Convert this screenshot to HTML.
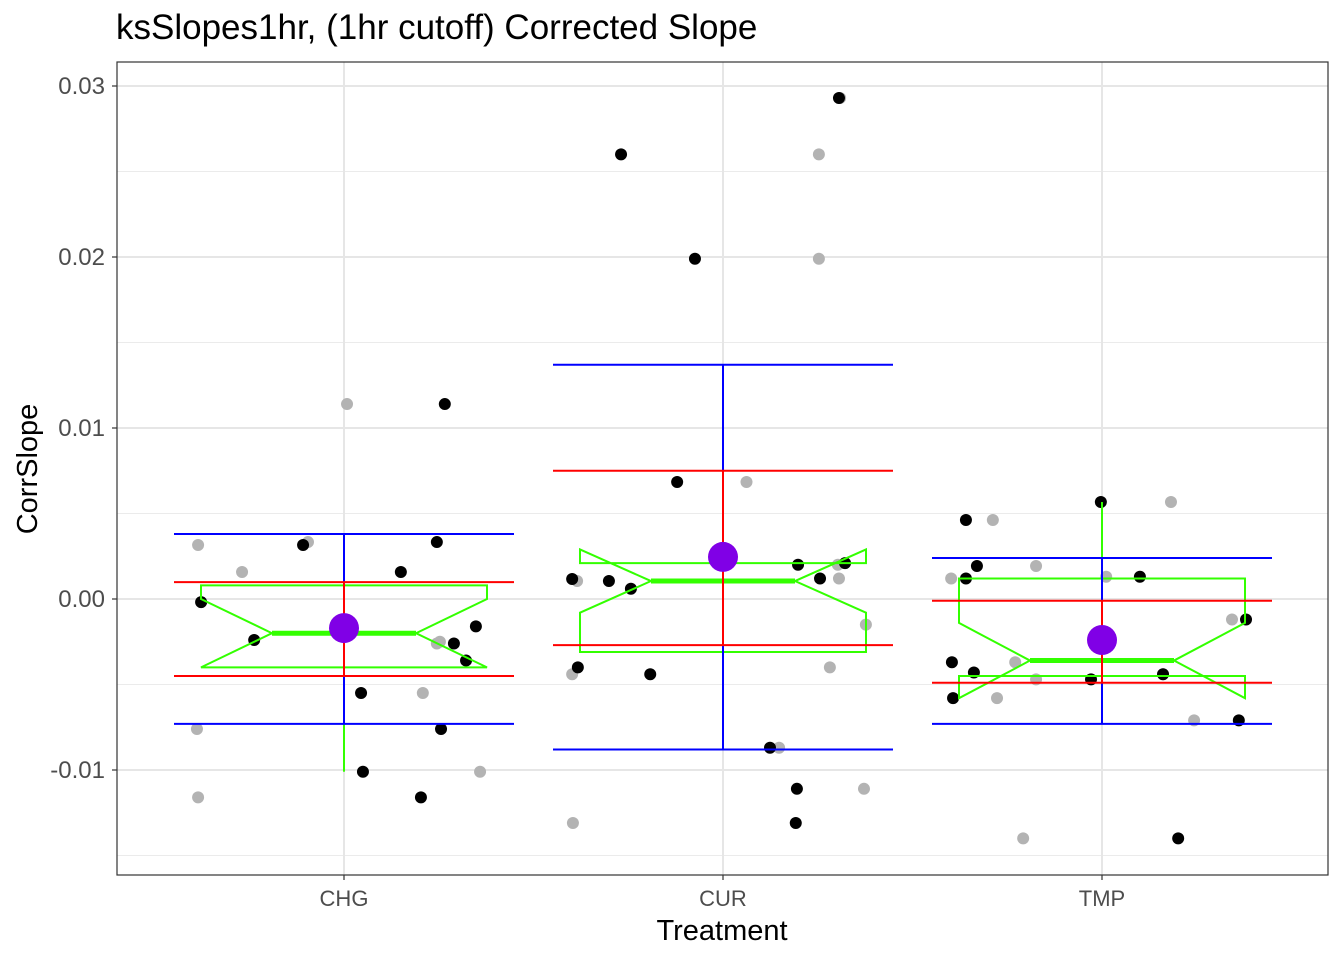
<!DOCTYPE html>
<html><head><meta charset="utf-8"><style>
body{margin:0;background:#fff}
svg text{font-family:"Liberation Sans",Arial,sans-serif}
</style></head><body>
<svg id="chart" width="1344" height="960" xmlns="http://www.w3.org/2000/svg">
<text x="116" y="39" font-size="35" fill="#000">ksSlopes1hr, (1hr cutoff) Corrected Slope</text>
<g id="grid"></g><g id="pts"></g><g id="boxes"></g><g id="errs"></g>
<rect x="117" y="62" width="1211" height="813" fill="none" stroke="#333" stroke-width="1.2"/>
<g id="axes"></g>
<text x="722" y="940" font-size="29" text-anchor="middle">Treatment</text>
<text transform="translate(37,469) rotate(-90)" font-size="29" text-anchor="middle">CorrSlope</text>
</svg>
<script>
const categories=["CHG","CUR","TMP"];
const yTicks=[-0.01,0,0.01,0.02,0.03];
const yTickLabels=["-0.01","0.00","0.01","0.02","0.03"];
const yMinor=[-0.015,-0.005,0.005,0.015,0.025];
const blackGroup=[0,0,0,0,0,0,0,0,0,0,0,0,0, 1,1,1,1,1,1,1,1,1,1,1,1,1,1,1, 2,2,2,2,2,2,2,2,2,2,2,2,2];
const blackVal=[-0.00018,-0.0024,0.00316,0.00158,0.00333,0.0114,-0.0026,-0.0016,-0.0055,-0.0101,-0.0116,-0.0076,-0.0036,
0.026,0.0199,0.0293,0.00684,0.00117,0.00105,0.0006,0.002,0.0012,0.0021,-0.004,-0.0044,-0.0087,-0.0111,-0.0131,
0.00567,0.00462,0.00193,0.0012,0.0013,-0.0037,-0.0043,-0.0058,-0.0047,-0.0044,-0.0012,-0.0071,-0.014];
const blackJit=[-0.377,-0.237,-0.108,0.15,0.245,0.266,0.29,0.348,0.045,0.05,0.203,0.256,0.322,
-0.269,-0.074,0.306,-0.121,-0.398,-0.301,-0.243,0.198,0.256,0.322,-0.383,-0.192,0.124,0.195,0.192,
-0.003,-0.359,-0.33,-0.359,0.1,-0.396,-0.338,-0.393,-0.029,0.161,0.38,0.361,0.201];
const greyGroup=[0,0,0,0,0,0,0,0,0,0, 1,1,1,1,1,1,1,1,1,1,1,1,1, 2,2,2,2,2,2,2,2,2,2,2,2];
const greyVal=[0.00316,0.00158,0.00333,0.0114,-0.0055,-0.0101,-0.0116,-0.0076,-0.0026,-0.0025,
0.026,0.0199,0.0293,0.00684,0.00105,0.0012,0.002,-0.0015,-0.0044,-0.004,-0.0087,-0.0111,-0.0131,
0.00567,0.00462,0.00193,0.0012,0.0013,-0.0037,-0.0047,-0.0058,-0.0071,-0.014,-0.0044,-0.0012];
const greyJit=[-0.385,-0.269,-0.095,0.008,0.208,0.359,-0.385,-0.388,0.245,0.253,
0.253,0.253,0.309,0.062,-0.385,0.306,0.303,0.377,-0.398,0.282,0.148,0.372,-0.396,
0.182,-0.288,-0.174,-0.398,0.011,-0.229,-0.174,-0.277,0.243,-0.208,0.161,0.343];
const means=[-0.0017,0.00246,-0.0024];
const sdLow=[-0.0045,-0.0027,-0.0049];
const sdHigh=[0.00099,0.0075,-0.0001];
const ciLow=[-0.0073,-0.0088,-0.0073];
const ciHigh=[0.0038,0.0137,0.0024];
const q1=[-0.004,-0.0031,-0.0045];
const q3=[0.0008,0.0021,0.0012];
const medians=[-0.002,0.00105,-0.0036];
const notchLow=[-0.004,-0.0008,-0.0058];
const notchHigh=[0.0,0.0029,-0.0014];
const whiskLow=[-0.0101,-0.0044,-0.0071];
const whiskHigh=[0.00333,0.00684,0.00567];

const X0=117,X1=1328,Y0=62,Y1=875;
const xs=i=>344+i*379;
const ys=v=>599-v*17100;
const NS="http://www.w3.org/2000/svg";
function mk(parent,tag,attrs){const e=document.createElementNS(NS,tag);for(const k in attrs)e.setAttribute(k,attrs[k]);document.getElementById(parent).appendChild(e);return e;}
yMinor.forEach(v=>{const e=mk('grid','line',{x1:X0,x2:X1,y1:ys(v),y2:ys(v),stroke:'#ebebeb','stroke-width':1});

});
yTicks.forEach((v,i)=>{const e=mk('grid','line',{x1:X0,x2:X1,y1:ys(v),y2:ys(v),stroke:'#e6e6e6','stroke-width':2});


const t=mk('axes','line',{x1:X0-5,x2:X0,y1:ys(v),y2:ys(v),stroke:'#333','stroke-width':1.2});


const l=mk('axes','text',{x:X0-12,y:ys(v)+8,'font-size':24,'text-anchor':'end',fill:'#4d4d4d'});l.textContent=yTickLabels[i];

});
categories.forEach((c,i)=>{const e=mk('grid','line',{x1:xs(i),x2:xs(i),y1:Y0,y2:Y1,stroke:'#e6e6e6','stroke-width':2});


const t=mk('axes','line',{x1:xs(i),x2:xs(i),y1:Y1,y2:Y1+5,stroke:'#333','stroke-width':1.2});


const l=mk('axes','text',{x:xs(i),y:Y1+31,'font-size':22,'text-anchor':'middle',fill:'#4d4d4d'});l.textContent=c;

});
greyVal.forEach((v,k)=>{const e=mk('pts','circle',{cx:xs(greyGroup[k])+greyJit[k]*379,cy:ys(v),r:6,fill:'#b3b3b3'});

});
blackVal.forEach((v,k)=>{const e=mk('pts','circle',{cx:xs(blackGroup[k])+blackJit[k]*379,cy:ys(v),r:6,fill:'#000'});

});
categories.forEach((c,i)=>{const x=xs(i),w=143,n=72;
const wl=mk('boxes','line',{x1:x,x2:x,y1:ys(whiskLow[i]),y2:ys(q1[i]),stroke:'#33ff00','stroke-width':2});


const wh=mk('boxes','line',{x1:x,x2:x,y1:ys(whiskHigh[i]),y2:ys(q3[i]),stroke:'#33ff00','stroke-width':2});


const pts=[[x-w,ys(q3[i])],[x-w,ys(notchHigh[i])],[x-n,ys(medians[i])],[x-w,ys(notchLow[i])],[x-w,ys(q1[i])],[x+w,ys(q1[i])],[x+w,ys(notchLow[i])],[x+n,ys(medians[i])],[x+w,ys(notchHigh[i])],[x+w,ys(q3[i])]];
const b=mk('boxes','polygon',{points:pts.map(p=>p.join(',')).join(' '),fill:'none',stroke:'#33ff00','stroke-width':2});


const m=mk('boxes','line',{x1:x-n,x2:x+n,y1:ys(medians[i]),y2:ys(medians[i]),stroke:'#33ff00','stroke-width':5});


const eh=170;
const bv=mk('errs','line',{x1:x,x2:x,y1:ys(ciLow[i]),y2:ys(ciHigh[i]),stroke:'#0000ff','stroke-width':2});


[ciLow[i],ciHigh[i]].forEach(v=>{const e=mk('errs','line',{x1:x-eh,x2:x+eh,y1:ys(v),y2:ys(v),stroke:'#0000ff','stroke-width':2});

});
const rv=mk('errs','line',{x1:x,x2:x,y1:ys(sdLow[i]),y2:ys(sdHigh[i]),stroke:'#ff0000','stroke-width':2});


[sdLow[i],sdHigh[i]].forEach(v=>{const e=mk('errs','line',{x1:x-eh,x2:x+eh,y1:ys(v),y2:ys(v),stroke:'#ff0000','stroke-width':2});

});
const mp=mk('errs','circle',{cx:x,cy:ys(means[i]),r:15,fill:'#8000e6'});

});
</script>
</body></html>
